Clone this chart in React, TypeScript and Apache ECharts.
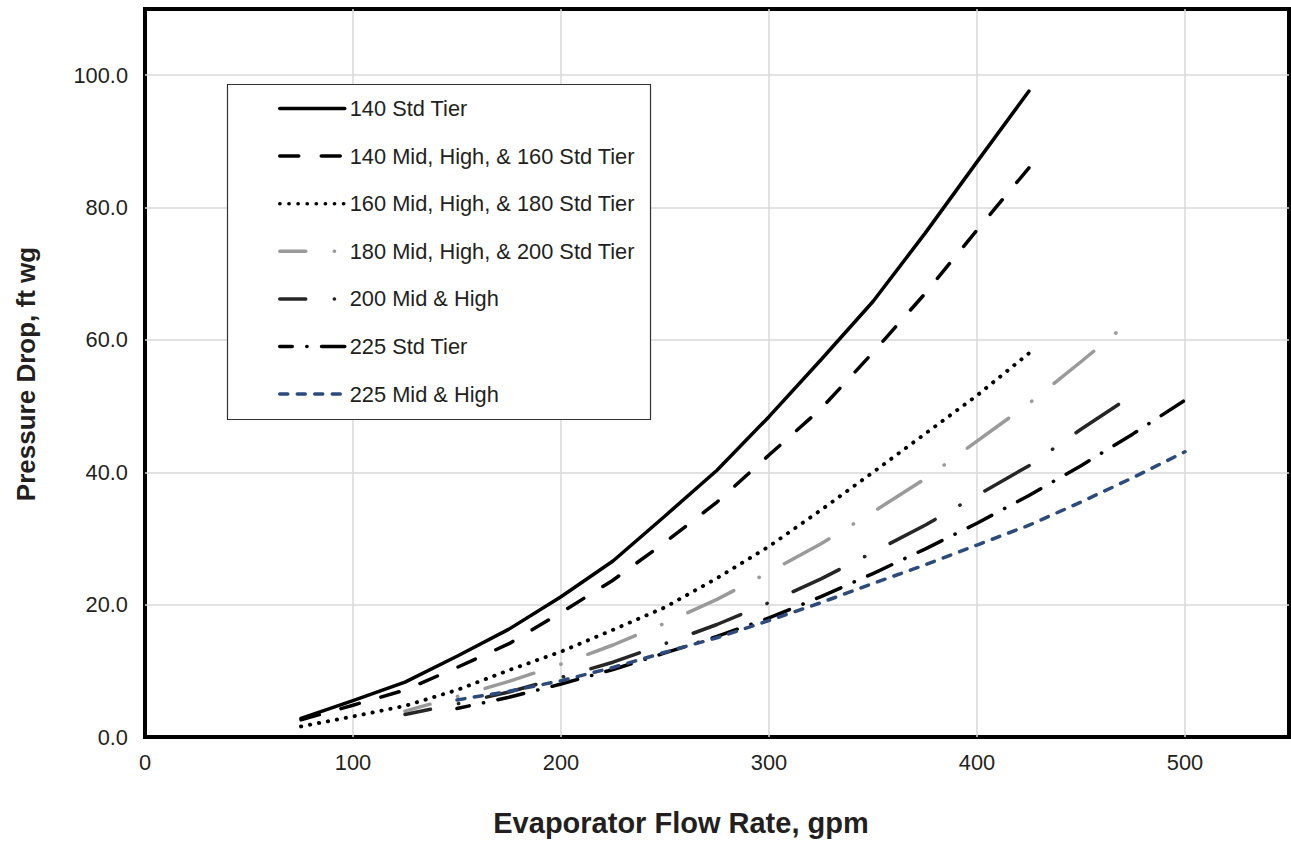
import { useEffect, useRef } from 'react';
import * as echarts from 'echarts';

// Evaporator flow rate (gpm) sample points for each curve family
const flowA = [75, 100, 125, 150, 175, 200, 225, 250, 275, 300, 325, 350, 375, 400, 425];
const flowB = [125, 150, 175, 200, 225, 250, 275, 300, 325, 350, 375, 400, 425, 450, 475];
const flowC = [150, 175, 200, 225, 250, 275, 300, 325, 350, 375, 400, 425, 450, 475, 500];

// Pressure drop (ft wg)
const drop140Std = [2.8, 5.5, 8.3, 12.2, 16.3, 21.2, 26.6, 33.4, 40.3, 48.4, 57.0, 65.8, 76.1, 86.9, 97.6];
const drop140Mid160Std = [2.6, 4.8, 7.1, 10.5, 14.1, 18.8, 23.7, 29.4, 35.5, 42.6, 49.6, 58.1, 67.0, 76.6, 86.0];
const drop160Mid180Std = [1.6, 3.1, 4.7, 7.1, 10.1, 12.9, 16.2, 19.6, 24.0, 28.8, 34.3, 40.0, 45.8, 51.6, 58.0];
const drop180Mid200Std = [3.9, 6.1, 8.4, 11.0, 13.9, 17.2, 20.8, 24.9, 29.2, 34.0, 39.0, 44.7, 50.4, 56.7, 63.2];
const drop200Mid = [3.4, 5.0, 6.8, 9.0, 11.3, 14.1, 17.0, 20.3, 23.9, 27.9, 32.0, 36.5, 41.0, 46.5, 51.7];
const drop225Std = [4.3, 6.0, 8.0, 10.2, 12.7, 15.2, 18.0, 21.2, 24.7, 28.4, 32.3, 36.5, 41.0, 45.8, 50.9];
const drop225Mid = [5.6, 6.9, 8.5, 10.5, 12.8, 15.0, 17.6, 20.3, 23.2, 26.0, 29.0, 32.0, 35.5, 39.2, 43.1];

const seriesNames = [
  '140 Std Tier',
  '140 Mid, High, & 160 Std Tier',
  '160 Mid, High, & 180 Std Tier',
  '180 Mid, High, & 200 Std Tier',
  '200 Mid & High',
  '225 Std Tier',
  '225 Mid & High',
];

const FONT = "'Liberation Sans', Arial, Helvetica, sans-serif";
const INK = '#231f20';
const LABEL_SIZE = 21.8;

const pairs = (xs: number[], ys: number[]) => xs.map((x, i) => [x, ys[i]]);

export default function App() {
  const ref = useRef<HTMLDivElement>(null);

  useEffect(() => {
    if (!ref.current) return;
    const chart = echarts.init(ref.current, undefined, { renderer: 'svg' });

    const line = (
      name: string,
      data: number[][],
      color: string,
      type: any,
      dashOffset = 0,
      width = 3.5
    ) => ({
      name,
      type: 'line',
      data,
      symbol: 'none',
      showSymbol: false,
      smooth: false,
      z: 2,
      lineStyle: { color, width, type, dashOffset, cap: 'round', join: 'round' },
      itemStyle: { color },
      emphasis: { disabled: true },
    });

    chart.setOption({
      animation: false,
      backgroundColor: '#ffffff',
      grid: {
        left: 145,
        right: 2,
        top: 9,
        bottom: 109,
        show: true,
        borderColor: '#000',
        borderWidth: 4,
        containLabel: false,
        outerBoundsMode: 'none',
      },
      xAxis: {
        type: 'value',
        min: 0,
        max: 550,
        interval: 100,
        axisLine: { show: false },
        axisTick: { show: false },
        axisLabel: {
          fontSize: LABEL_SIZE,
          fontFamily: FONT,
          color: INK,
          margin: 14,
          showMaxLabel: false,
        },
        splitLine: {
          show: true,
          showMinLine: false,
          showMaxLine: false,
          lineStyle: { color: '#d9d9d9', width: 1.5 },
        },
      },
      yAxis: {
        type: 'value',
        min: 0,
        max: 110,
        interval: 20,
        axisLine: { show: false },
        axisTick: { show: false },
        axisLabel: {
          fontSize: LABEL_SIZE,
          fontFamily: FONT,
          color: INK,
          margin: 17,
          showMaxLabel: false,
          formatter: (v: number) => v.toFixed(1),
        },
        splitLine: {
          show: true,
          showMinLine: false,
          showMaxLine: false,
          lineStyle: { color: '#d9d9d9', width: 1.5 },
        },
      },
      legend: {
        orient: 'vertical',
        left: 278,
        top: 97.5,
        padding: 0,
        itemWidth: 65,
        itemHeight: 21,
        itemGap: 25.6,
        selectedMode: false,
        data: seriesNames,
        textStyle: { fontSize: LABEL_SIZE, fontFamily: FONT, color: INK, lineHeight: 21 },
        lineStyle: { width: 3.5 },
        itemStyle: { opacity: 0 },
        z: 6,
      },
      graphic: [
        {
          type: 'rect',
          z: 5,
          shape: { x: 227.5, y: 84.5, width: 423, height: 335 },
          style: { fill: '#ffffff', stroke: '#333333', lineWidth: 1.2 },
        },
        {
          type: 'text',
          x: 681,
          y: 823,
          style: {
            text: 'Evaporator Flow Rate, gpm',
            font: `bold 29px ${FONT}`,
            fill: INK,
            align: 'center',
            verticalAlign: 'middle',
          },
        },
        {
          type: 'text',
          x: 25.5,
          y: 374,
          rotation: Math.PI / 2,
          style: {
            text: 'Pressure Drop, ft wg',
            font: `bold 26px ${FONT}`,
            fill: INK,
            align: 'center',
            verticalAlign: 'middle',
          },
        },
      ],
      series: [
        line(seriesNames[0], pairs(flowA, drop140Std), '#000000', 'solid'),
        line(seriesNames[1], pairs(flowA, drop140Mid160Std), '#000000', [19, 22.5]),
        line(seriesNames[2], pairs(flowA, drop160Mid180Std), '#000000', [0.3, 8.8], 0, 3.9),
        line(seriesNames[3], pairs(flowB, drop180Mid200Std), '#9a9a9a', [51, 28.5, 0.3, 28.5], 24.5),
        line(seriesNames[4], pairs(flowB, drop200Mid), '#262626', [51, 28.5, 0.3, 28.5], 24.5),
        line(seriesNames[5], pairs(flowC, drop225Std), '#000000', [26.5, 14.5, 0.3, 14.5], 14),
        line(seriesNames[6], pairs(flowC, drop225Mid), '#2c4a7c', [8, 9.5]),
      ],
    });

    return () => chart.dispose();
  }, []);

  return (
    <div
      ref={ref}
      style={{ position: 'fixed', left: 0, top: 0, width: 1291, height: 846, background: '#fff' }}
    />
  );
}
